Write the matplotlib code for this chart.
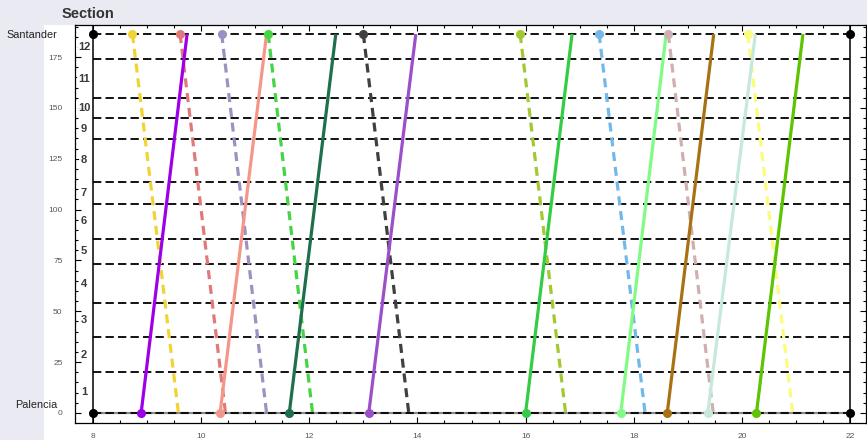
import matplotlib
matplotlib.use("Agg")
import matplotlib.pyplot as plt
from matplotlib.patches import Rectangle
from matplotlib.ticker import MultipleLocator

plt.rcParams["font.family"] = ["Liberation Sans", "DejaVu Sans"]
plt.rcParams["lines.scale_dashes"] = False

# Station positions along the line (km from Palencia)
station_km = [0, 20.2, 37.2, 53.9, 73.3, 85.5, 102.9, 113.7, 134.7, 145.0, 155.0, 173.9, 186.3]
section_labels = ["1", "2", "3", "4", "5", "6", "7", "8", "9", "10", "11", "12"]
terminus_names = ["Palencia", "Santander"]

# Northbound trains (Palencia -> Santander), decimal hours
up_depart = [8.89, 10.35, 11.63, 13.10, 16.00, 17.76, 18.62, 19.37, 20.27]
up_arrive = [9.74, 11.21, 12.49, 13.97, 16.86, 18.60, 19.48, 20.25, 21.13]
up_colors = ["#9d00e8", "#f4978a", "#1f6e4c", "#9b4fc9", "#33cc44",
             "#80fc86", "#a87214", "#c6e9dc", "#5cc400"]

# Southbound trains (Santander -> Palencia), decimal hours
down_depart = [8.73, 9.61, 10.38, 11.24, 13.00, 15.90, 17.36, 18.64, 20.11]
down_arrive = [9.58, 10.45, 11.21, 12.06, 13.84, 16.74, 18.21, 19.47, 20.94]
down_colors = ["#f2d335", "#e07a7a", "#9d91c1", "#44d444", "#3e423e",
               "#a2c932", "#72b9ea", "#cfb0b0", "#fbfb7c"]

day_start, day_end = 8, 22

fig = plt.figure(figsize=(8.67, 4.40), dpi=100, facecolor="#eaeaf2")
panel = Rectangle((44 / 867, 0), 1, 415 / 440, transform=fig.transFigure,
                  facecolor="white", edgecolor="none", zorder=-10)
fig.add_artist(panel)
ax = fig.add_axes([75 / 867, 17 / 440, 791 / 867, 398 / 440])
ax.set_zorder(1)
ax.set_facecolor("white")

top_km = station_km[-1]
ax.set_xlim(7.667, 22.296)
ax.set_ylim(-4.92, 190.76)

# Station lines
ax.plot([day_start, day_end], [0, 0], color="#8a8a8a", lw=1.6, zorder=1, solid_capstyle="butt")
for km in station_km:
    ax.plot([day_start, day_end], [km, km], color="black", lw=1.3,
            linestyle=(0, (6, 3)), zorder=2)

ax.axvline(day_start, color="black", lw=1.1, zorder=3)
ax.axvline(day_end, color="black", lw=1.1, zorder=3)
ax.plot([day_start, day_start, day_end, day_end], [0, top_km, 0, top_km], "o",
        color="black", ms=5.5, zorder=6, clip_on=False)

# Trains
for t0, t1, c in zip(down_depart, down_arrive, down_colors):
    ax.plot([t0, t1], [top_km, 0], color=c, lw=2.3, linestyle=(0, (6.5, 4.2)), zorder=4)
    ax.plot([t0], [top_km], "o", color=c, ms=5.5, zorder=5)
for t0, t1, c in zip(up_depart, up_arrive, up_colors):
    ax.plot([t0, t1], [0, top_km], color=c, lw=2.3, zorder=4, solid_capstyle="butt")
    ax.plot([t0], [0], "o", color=c, ms=5.5, zorder=5)

# Section numbers between stations
for lo, hi, lab in zip(station_km[:-1], station_km[1:], section_labels):
    ax.text(7.834, (lo + hi) / 2, lab, ha="center", va="center", fontsize=8,
            fontweight="bold", color="#3a3a3a", zorder=7,
            bbox=dict(boxstyle="square,pad=0.15", facecolor="white", edgecolor="none", alpha=0.9))

# Terminus names
ax.text(7.334, 186.0, terminus_names[1], ha="right", va="center", fontsize=7.8,
        color="#222222", clip_on=False)
ax.text(7.334, 4.0, terminus_names[0], ha="right", va="center", fontsize=7.8,
        color="#222222", clip_on=False)

# Axes, ticks
ax.xaxis.set_major_locator(MultipleLocator(2))
ax.xaxis.set_minor_locator(MultipleLocator(0.5))
ax.yaxis.set_major_locator(MultipleLocator(25))
ax.yaxis.set_minor_locator(MultipleLocator(5))
ax.tick_params(which="both", direction="in", top=True, right=True, colors="black",
               labelcolor="#555555", labelsize=6, width=0.8)
ax.tick_params(which="major", length=4.5)
ax.tick_params(which="minor", length=2.5)
ax.tick_params(axis="y", which="major", pad=9)
ax.tick_params(axis="x", which="major", pad=7)
for s in ax.spines.values():
    s.set_linewidth(0.9)
    s.set_color("black")

fig.text(62 / 867, 1 - 14 / 440, "Section", ha="left", va="center", fontsize=10.5,
         fontweight="bold", color="#333333")

fig.savefig("out.png", dpi=100, facecolor=fig.get_facecolor())
